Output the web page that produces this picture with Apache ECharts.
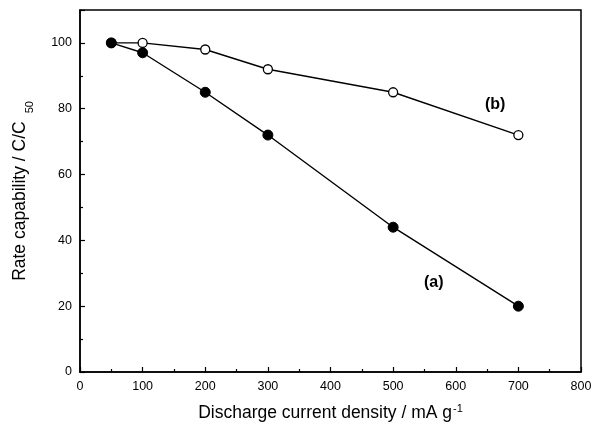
<!DOCTYPE html>
<html><head><meta charset="utf-8">
<script src="https://cdn.jsdelivr.net/npm/echarts@6/dist/echarts.min.js"></script>
<style>html,body{margin:0;padding:0;background:#fff}#c{width:593px;height:423px}</style>
</head><body><div id="c"></div>
<script>
const xValues = [50, 100, 200, 300, 500, 700];
const seriesA = [100, 97, 85, 72, 44, 20];
const seriesB = [100, 100, 98, 92, 85, 72];
const xTicks = [0, 100, 200, 300, 400, 500, 600, 700, 800];
const yTicks = [0, 20, 40, 60, 80, 100];

const chart = echarts.init(document.getElementById('c'));
const font = 'Liberation Sans, Arial, sans-serif';
const axisCommon = {
  axisLine: {show: true, lineStyle: {color: '#000', width: 1.5}},
  axisTick: {show: true, inside: true, length: 5, lineStyle: {color: '#000', width: 1.2}},
  minorTick: {show: true, splitNumber: 2, length: 3, lineStyle: {color: '#000', width: 1.2}},
  splitLine: {show: false},
  axisLabel: {color: '#000', fontFamily: font, fontSize: 12.5}
};
chart.setOption({
  animation: false,
  backgroundColor: '#fff',
  grid: {left: 80, right: 12, top: 10, bottom: 51, show: true, borderColor: '#000', borderWidth: 1.5,
         containLabel: false, outerBoundsMode: 'none'},
  xAxis: Object.assign({}, axisCommon, {
    type: 'value', min: 0, max: 800, interval: 100,
    axisLabel: Object.assign({}, axisCommon.axisLabel, {margin: 8, formatter: v => xTicks.includes(v) ? String(v) : ''}),
    name: '{n|Discharge current density / mA g}{s|-1}',
    nameLocation: 'middle', nameGap: 31,
    nameTextStyle: {rich: {
      n: {fontFamily: font, fontSize: 17.5, color: '#000'},
      s: {fontFamily: font, fontSize: 11, color: '#000', verticalAlign: 'top', padding: [0, 0, 9, 1]}
    }}
  }),
  yAxis: Object.assign({}, axisCommon, {
    type: 'value', min: 0, max: 110, interval: 20,
    axisLabel: Object.assign({}, axisCommon.axisLabel, {margin: 8, formatter: v => yTicks.includes(v) ? String(v) : ''}),
    name: '{n|Rate capability / C/C}{s|50}',
    nameLocation: 'middle', nameGap: 45, nameRotate: 90,
    nameTextStyle: {rich: {
      n: {fontFamily: font, fontSize: 17.5, lineHeight: 20, color: '#000'},
      s: {fontFamily: font, fontSize: 11, lineHeight: 30, color: '#000', verticalAlign: 'bottom', padding: [0, 0, 0, 8]}
    }}
  }),
  series: [
    {
      type: 'line', data: xValues.map((x, i) => [x, seriesB[i]]),
      symbol: 'circle', symbolSize: 9,
      lineStyle: {color: '#000', width: 1.4},
      itemStyle: {color: '#fff', borderColor: '#000', borderWidth: 1.3}
    },
    {
      type: 'line', data: xValues.map((x, i) => [x, seriesA[i]]),
      symbol: 'circle', symbolSize: 10,
      lineStyle: {color: '#000', width: 1.4},
      itemStyle: {color: '#000', borderColor: '#000', borderWidth: 1}
    }
  ],
  graphic: [
    {type: 'text', left: 424, top: 275, style: {text: '(a)', font: 'bold 16px ' + font, fill: '#000'}},
    {type: 'text', left: 485, top: 97, style: {text: '(b)', font: 'bold 16px ' + font, fill: '#000'}}
  ]
});
</script></body></html>
